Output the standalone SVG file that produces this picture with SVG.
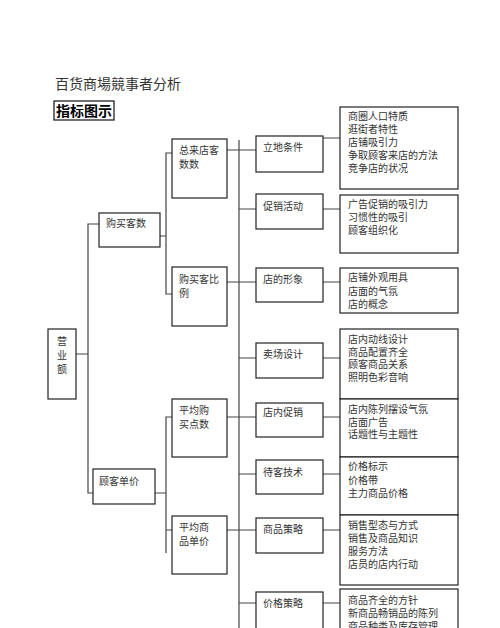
<svg xmlns="http://www.w3.org/2000/svg" width="500" height="628" viewBox="0 0 500 628">
<style>
.bx{fill:#fff;stroke:#222;stroke-width:1.2}
.ln{fill:none;stroke:#444;stroke-width:1.2}
text{font-family:"Liberation Serif","Noto Sans CJK SC",serif;fill:#333;font-size:10px}
.t{font-size:14px}
.h{font-size:14px;font-weight:bold;fill:#000}
</style>
<rect width="500" height="628" fill="#fff"/>
<text class="t" x="55" y="89">百货商場競事者分析</text>
<g id="header"><rect x="54" y="101" width="60" height="19" fill="#fff" stroke="#111" stroke-width="1.2"/><text class="h" x="56" y="116">指标图示</text></g>

<g id="connectors">
<path class="ln" d="M76,354 H88 M99,224 H88 V493 H93"/>
<path class="ln" d="M160,236 H166 M172,153 H166 V294 H172"/>
<path class="ln" d="M155,493 H166 M172,417 H166 V553 M166,530 H172"/>
<path class="ln" d="M227,150 H239 M227,282 H239 M227,417 H239 M227,530 H239"/>
<path class="ln" d="M239,140 V628"/>
<path class="ln" d="M239,150 H256 M239,209 H256 M239,282 H256 M239,358 H256 M239,417 H256 M239,474 H256 M239,530 H256 M239,603 H256"/>
<path class="ln" d="M323,138 H340 M323,209 H340 M323,282 H340 M323,358 H340 M323,417 H340 M323,474 H340 M323,530 H340 M323,603 H340"/>
</g>

<g id="n-yingye"><rect class="bx" x="48" y="329" width="28" height="70"/><text x="57" y="345">营</text><text x="57" y="358.5">业</text><text x="57" y="373">额</text></g>
<g id="n-goumaikeshu"><rect class="bx" x="99" y="213" width="61" height="34"/><text x="106" y="227">购买客数</text></g>
<g id="n-gukedanjia"><rect class="bx" x="93" y="469" width="62" height="35"/><text x="99" y="485">顾客单价</text></g>

<g id="n-zonglaidian"><rect class="bx" x="172" y="139" width="55" height="59"/><text x="179" y="154">总来店客</text><text x="179" y="168">数数</text></g>
<g id="n-goumaikebili"><rect class="bx" x="172" y="267" width="55" height="59"/><text x="179" y="283">购买客比</text><text x="179" y="297">例</text></g>
<g id="n-pingjungoumai"><rect class="bx" x="172" y="399" width="55" height="58"/><text x="179" y="414">平均购</text><text x="179" y="428">买点数</text></g>
<g id="n-pingjunshangpin"><rect class="bx" x="172" y="516" width="55" height="58"/><text x="179" y="531">平均商</text><text x="179" y="545">品单价</text></g>

<g id="n-lidi"><rect class="bx" x="256" y="136" width="67" height="36"/><text x="263" y="150.5">立地条件</text></g>
<g id="n-cuxiao"><rect class="bx" x="256" y="194" width="67" height="35"/><text x="263" y="210">促销活动</text></g>
<g id="n-xingxiang"><rect class="bx" x="256" y="268" width="67" height="34"/><text x="263" y="283">店的形象</text></g>
<g id="n-maichang"><rect class="bx" x="256" y="343" width="67" height="35"/><text x="263" y="358">卖场设计</text></g>
<g id="n-diannei"><rect class="bx" x="256" y="403" width="67" height="34"/><text x="263" y="416">店内促销</text></g>
<g id="n-daike"><rect class="bx" x="256" y="460" width="67" height="34"/><text x="263" y="475.5">待客技术</text></g>
<g id="n-shangpin"><rect class="bx" x="256" y="518" width="67" height="35"/><text x="263" y="533">商品策略</text></g>
<g id="n-jiage"><rect class="bx" x="256" y="592" width="67" height="40"/><text x="263" y="606.5">价格策略</text></g>

<g id="d-lidi"><rect class="bx" x="340" y="107" width="118" height="82"/>
<text x="348" y="120">商圈人口特质</text><text x="348" y="133">逛街者特性</text><text x="348" y="146">店铺吸引力</text><text x="348" y="159">争取顾客来店的方法</text><text x="348" y="172">竞争店的状况</text></g>
<g id="d-cuxiao"><rect class="bx" x="340" y="195" width="118" height="58"/>
<text x="348" y="208">广告促销的吸引力</text><text x="348" y="221">习惯性的吸引</text><text x="348" y="234">顾客组织化</text></g>
<g id="d-xingxiang"><rect class="bx" x="340" y="268" width="118" height="45"/>
<text x="348" y="281">店铺外观用具</text><text x="348" y="294.5">店面的气氛</text><text x="348" y="307.5">店的概念</text></g>
<g id="d-maichang"><rect class="bx" x="340" y="329" width="118" height="70"/>
<text x="348" y="343">店内动线设计</text><text x="348" y="355.5">商品配置齐全</text><text x="348" y="368">顾客商品关系</text><text x="348" y="380.5">照明色彩音响</text></g>
<g id="d-diannei"><rect class="bx" x="340" y="399" width="118" height="58"/>
<text x="348" y="413">店内陈列摆设气氛</text><text x="348" y="425.5">店面广告</text><text x="348" y="438">话题性与主题性</text></g>
<g id="d-daike"><rect class="bx" x="340" y="457" width="118" height="58"/>
<text x="348" y="470">价格标示</text><text x="348" y="483.5">价格带</text><text x="348" y="496.5">主力商品价格</text></g>
<g id="d-shangpin"><rect class="bx" x="340" y="515" width="118" height="70"/>
<text x="348" y="528.5">销售型态与方式</text><text x="348" y="541.5">销售及商品知识</text><text x="348" y="554.5">服务方法</text><text x="348" y="567.5">店员的店内行动</text></g>
<g id="d-jiage"><rect class="bx" x="340" y="589" width="118" height="50"/>
<text x="348" y="604">商品齐全的方针</text><text x="348" y="617">新商品畅销品的陈列</text><text x="348" y="630">商品种类及库存管理</text></g>
</svg>
